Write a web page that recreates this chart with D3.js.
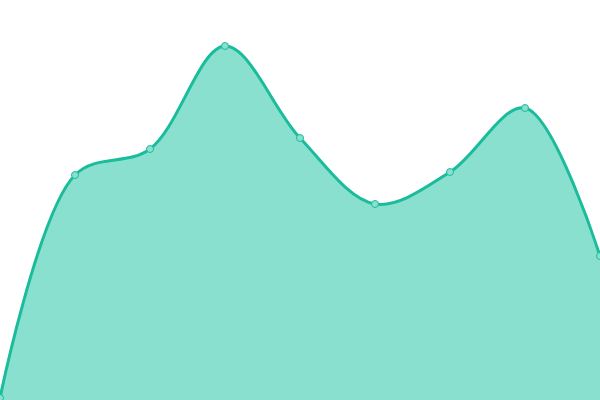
<!DOCTYPE html>
<html>
<head>
<meta charset="utf-8">
<script src="https://cdn.jsdelivr.net/npm/d3@7"></script>
<style>
  html, body { margin: 0; padding: 0; background: #fff; }
  svg { display: block; }
</style>
</head>
<body>
<svg id="chart" width="600" height="400"></svg>
<script>
const categories = ["A", "B", "C", "D", "E", "F", "G", "H", "I"];
const values = [2, 225, 251, 354, 262, 196, 228, 292, 144];

const width = 600, height = 400;
const svg = d3.select("#chart");

const x = d3.scalePoint().domain(categories).range([0, width]);
const y = d3.scaleLinear().domain([0, 400]).range([height, 0]);

const data = categories.map((c, i) => ({ c, v: values[i] }));

const area = d3.area()
  .x(d => x(d.c))
  .y0(height)
  .y1(d => y(d.v))
  .curve(d3.curveCatmullRom.alpha(0.5));

const line = d3.line()
  .x(d => x(d.c))
  .y(d => y(d.v))
  .curve(d3.curveCatmullRom.alpha(0.5));

svg.append("path")
  .datum(data)
  .attr("d", area)
  .attr("fill", "#8ae0cf");

svg.append("path")
  .datum(data)
  .attr("d", line)
  .attr("fill", "none")
  .attr("stroke", "#1abc9c")
  .attr("stroke-width", 3);

svg.selectAll("circle")
  .data(data)
  .enter().append("circle")
  .attr("cx", d => x(d.c))
  .attr("cy", d => y(d.v))
  .attr("r", 3.5)
  .attr("fill", "#8ae0cf")
  .attr("stroke", "#1abc9c")
  .attr("stroke-width", 1);
</script>
</body>
</html>
